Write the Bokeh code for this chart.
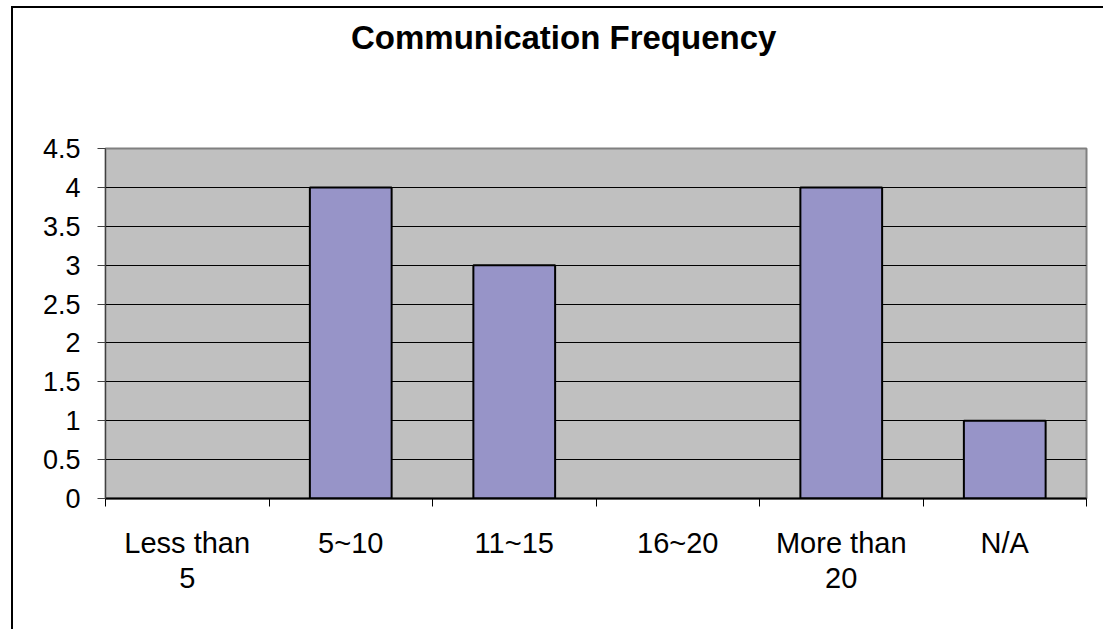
from bokeh.plotting import figure
from bokeh.models import Range1d, FixedTicker, ColumnDataSource, Div
from bokeh.layouts import column
from bokeh.embed import file_html
from bokeh.resources import INLINE

chart_title = "Communication Frequency"
categories = ["Less than\n5", "5~10", "11~15", "16~20", "More than\n20", "N/A"]
values = [0, 4, 3, 0, 4, 1]
y_ticks = [0, 0.5, 1, 1.5, 2, 2.5, 3, 3.5, 4, 4.5]
y_tick_labels = ["0", "0.5", "1", "1.5", "2", "2.5", "3", "3.5", "4", "4.5"]

centers = [i + 0.5 for i in range(len(categories))]
boundaries = list(range(len(categories) + 1))

FONT = "Liberation Sans"

title_div = Div(text=chart_title, width=1090, height=52, margin=(0, 0, 0, 0),
                styles={"font-family": FONT, "font-weight": "bold", "font-size": "33px",
                        "color": "black", "padding-left": "338px", "padding-top": "6px",
                        "box-sizing": "border-box", "background-color": "white"})

p = figure(width=1090, height=569, output_backend="svg", toolbar_location=None,
           x_range=Range1d(0, len(categories)), y_range=Range1d(0, 4.5),
           min_border_left=92, min_border_right=17, min_border_top=88, min_border_bottom=131)
p.background_fill_color = "#C0C0C0"
p.border_fill_color = "white"
p.outline_line_color = "#808080"
p.outline_line_width = 2

nz = [i for i, v in enumerate(values) if v > 0]
src = ColumnDataSource(dict(x=[centers[i] for i in nz], top=[values[i] for i in nz]))
p.vbar(x="x", top="top", width=0.5, source=src, fill_color="#9794C8",
       line_color="black", line_width=2)

p.grid.visible = False
p.ygrid.visible = True
p.ygrid.grid_line_color = "black"
p.ygrid.grid_line_width = 1
p.ygrid.ticker = FixedTicker(ticks=y_ticks)
p.ygrid.level = "underlay"

yax = p.yaxis[0]
yax.ticker = FixedTicker(ticks=y_ticks)
yax.major_label_overrides = {t: l for t, l in zip(y_ticks, y_tick_labels)}
yax.major_tick_in = 0
yax.major_tick_out = 8
yax.minor_tick_in = 0
yax.minor_tick_out = 0
yax.axis_line_color = "#404040"
yax.major_tick_line_color = "#404040"
yax.major_label_text_font = FONT
yax.major_label_text_font_size = "27px"
yax.major_label_text_color = "black"
yax.major_label_standoff = 17

xax = p.xaxis[0]
xax.ticker = FixedTicker(ticks=centers, minor_ticks=boundaries)
xax.major_label_overrides = {c: l for c, l in zip(centers, categories)}
xax.major_tick_in = 0
xax.major_tick_out = 0
xax.minor_tick_in = 0
xax.minor_tick_out = 8
xax.minor_tick_line_color = "black"
xax.axis_line_color = "black"
xax.axis_line_width = 2
xax.major_label_text_font = FONT
xax.major_label_text_font_size = "29px"
xax.major_label_text_color = "black"
xax.major_label_standoff = 20
xax.major_label_text_line_height = 1.12

layout = column(title_div, p, spacing=0, margin=(6, 0, 0, 11),
                styles={"border-left": "2px solid black", "border-top": "2px solid black",
                        "background-color": "white"})

open("out.html", "w").write(file_html(layout, INLINE))
